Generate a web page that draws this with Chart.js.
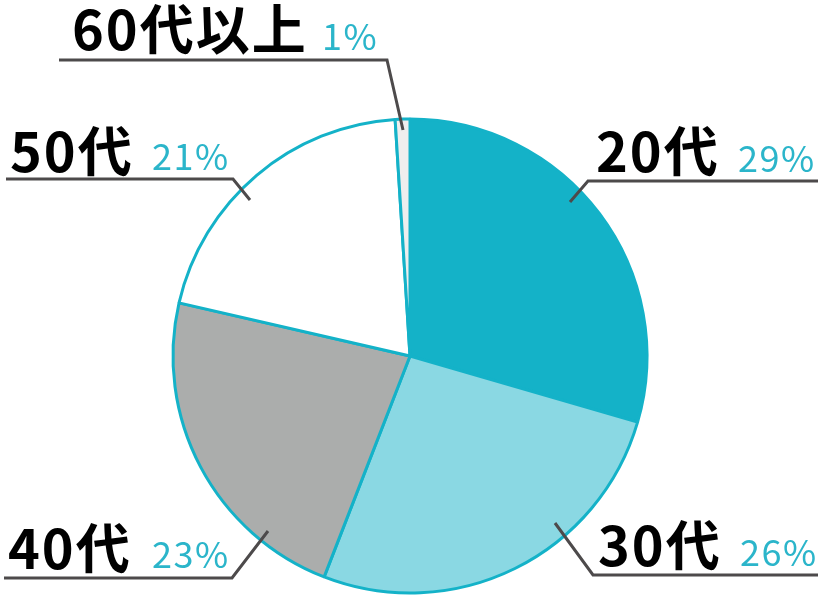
<!DOCTYPE html>
<html lang="ja">
<head>
<meta charset="utf-8">
<title>年代別構成</title>
<script src="https://cdn.jsdelivr.net/npm/chart.js@4/dist/chart.umd.min.js"></script>
<style>
  html, body { margin: 0; padding: 0; background: #fff; }
  canvas { display: block; }
</style>
</head>
<body>
<canvas id="chart" width="820" height="596"></canvas>
<script>
const categories = ['20代', '30代', '40代', '50代', '60代以上'];
const shares = [29.5, 26.4, 22.7, 20.4, 1.0];
const shareLabels = ['29%', '26%', '23%', '21%', '1%'];
const sliceColors = ['#14B2C8', '#8AD8E3', '#ABADAC', '#FFFFFF', '#EEEEEE'];

// leader line and text placement for each category (same order as categories)
const labelLayout = [
  { line: [[570, 202], [588, 181], [818, 181]], name: [596, 172], pct: [738, 172] },
  { line: [[555, 523], [593, 575], [818, 575]], name: [598, 566], pct: [740, 566] },
  { line: [[268, 531], [232, 578], [4, 578]], name: [8, 569], pct: [152, 568] },
  { line: [[250, 200], [233, 179], [6, 179]], name: [10, 172], pct: [152, 170] },
  { line: [[403, 130], [387, 60], [59, 60]], name: [72, 50], pct: [322, 50] },
];

const calloutPlugin = {
  id: 'callouts',
  afterDraw(chart) {
    const { ctx } = chart;
    ctx.save();
    labelLayout.forEach((item, i) => {
      ctx.beginPath();
      item.line.forEach(([x, y], j) => (j ? ctx.lineTo(x, y) : ctx.moveTo(x, y)));
      ctx.strokeStyle = '#4D4A4B';
      ctx.lineWidth = 3;
      ctx.lineJoin = 'miter';
      ctx.stroke();

      ctx.textAlign = 'left';
      ctx.textBaseline = 'alphabetic';
      ctx.fillStyle = '#000';
      ctx.font = 'bold 54px "Noto Sans CJK JP", "Noto Sans", sans-serif';
      ctx.letterSpacing = '2px';
      ctx.fillText(categories[i], item.name[0], item.name[1]);

      ctx.fillStyle = '#2BB5CA';
      ctx.font = '36px "Noto Sans CJK JP", "Noto Sans", sans-serif';
      ctx.letterSpacing = '1.5px';
      ctx.fillText(shareLabels[i], item.pct[0], item.pct[1]);
    });
    ctx.restore();
  },
};

new Chart(document.getElementById('chart'), {
  type: 'pie',
  data: {
    labels: categories,
    datasets: [
      {
        data: shares,
        backgroundColor: sliceColors,
        borderColor: '#14B2C8',
        borderWidth: 3,
      },
    ],
  },
  options: {
    responsive: false,
    animation: false,
    radius: 237,
    layout: { padding: { top: 118, bottom: 2, left: 0, right: 0 } },
    plugins: {
      legend: { display: false },
      tooltip: { enabled: false },
    },
  },
  plugins: [calloutPlugin],
});
</script>
</body>
</html>
